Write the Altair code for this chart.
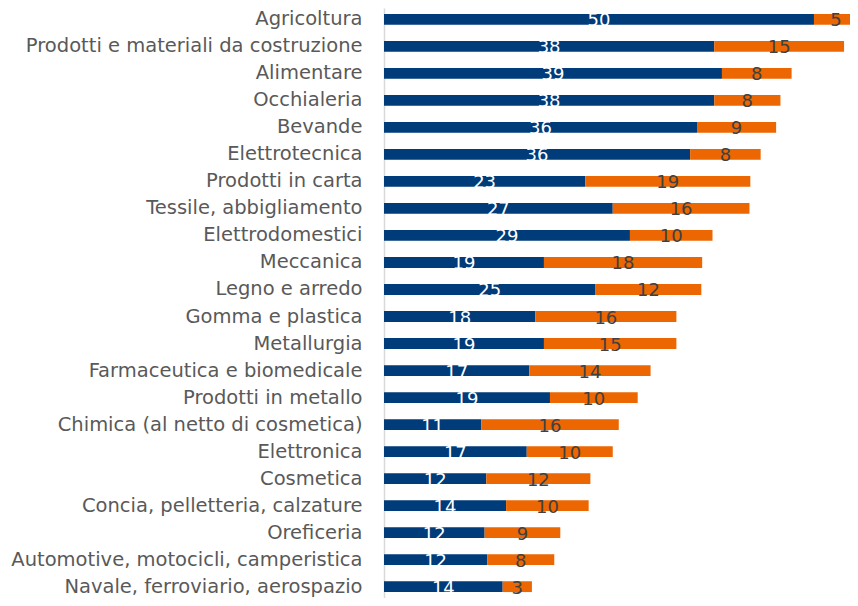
import altair as alt
import pandas as pd

categories = [
    "Agricoltura",
    "Prodotti e materiali da costruzione",
    "Alimentare",
    "Occhialeria",
    "Bevande",
    "Elettrotecnica",
    "Prodotti in carta",
    "Tessile, abbigliamento",
    "Elettrodomestici",
    "Meccanica",
    "Legno e arredo",
    "Gomma e plastica",
    "Metallurgia",
    "Farmaceutica e biomedicale",
    "Prodotti in metallo",
    "Chimica (al netto di cosmetica)",
    "Elettronica",
    "Cosmetica",
    "Concia, pelletteria, calzature",
    "Oreficeria",
    "Automotive, motocicli, camperistica",
    "Navale, ferroviario, aerospazio",
]
serie_blu = [50.0, 38.4, 39.3, 38.4, 36.4, 35.6, 23.4, 26.6, 28.6, 18.6, 24.6,
             17.6, 18.6, 16.9, 19.3, 11.3, 16.6, 11.9, 14.2, 11.7, 12.0, 13.8]
serie_arancio = [5.1, 15.1, 8.1, 7.7, 9.2, 8.2, 19.2, 15.9, 9.6, 18.4, 12.3,
                 16.4, 15.4, 14.1, 10.2, 16.0, 10.0, 12.1, 9.6, 8.8, 7.8, 3.4]

BLUE = "#003B7A"
ORANGE = "#EC6602"
FONT = "DejaVu Sans"

rows = []
for c, b, o in zip(categories, serie_blu, serie_arancio):
    rows.append({"cat": c, "serie": "A", "ord": 0, "val": b})
    rows.append({"cat": c, "serie": "B", "ord": 1, "val": o})
df = pd.DataFrame(rows)

base = alt.Chart(df).transform_stack(
    stack="val", groupby=["cat"], as_=["v0", "v1"], sort=[alt.SortField("ord")]
).transform_calculate(mid="(datum.v0 + datum.v1) / 2")

y_scale = alt.Scale(paddingInner=0.6, paddingOuter=0.22)
y_enc = alt.Y(
    "cat:N",
    sort=categories,
    scale=y_scale,
    axis=alt.Axis(
        title=None,
        ticks=False,
        domainColor="#D9D9D9",
        domainWidth=1.5,
        labelFont=FONT,
        labelFontSize=19.5,
        labelColor="#595959",
        labelPadding=22,
        labelLimit=0,
    ),
)
x_scale = alt.Scale(domain=[0, 54.19], nice=False, zero=True)

bars = base.mark_bar().encode(
    y=y_enc,
    x=alt.X("v0:Q", scale=x_scale, axis=None),
    x2="v1:Q",
    color=alt.Color("serie:N", scale=alt.Scale(domain=["A", "B"], range=[BLUE, ORANGE]), legend=None),
)

text = base.mark_text(font=FONT, fontSize=18, dy=2, baseline="middle", align="center").encode(
    y=alt.Y("cat:N", sort=categories),
    x=alt.X("mid:Q", scale=x_scale, axis=None),
    text=alt.Text("val:Q", format=".0f"),
    color=alt.condition("datum.serie == 'A'", alt.value("white"), alt.value("#404040")),
)

chart = (bars + text).properties(
    width=466,
    height=590,
    autosize=alt.AutoSizeParams(type="none"),
    padding={"left": 376, "top": 0, "right": 0, "bottom": 0},
).configure_view(stroke=None)

chart.save("out.html", embed_options={"renderer": "svg", "actions": False})
